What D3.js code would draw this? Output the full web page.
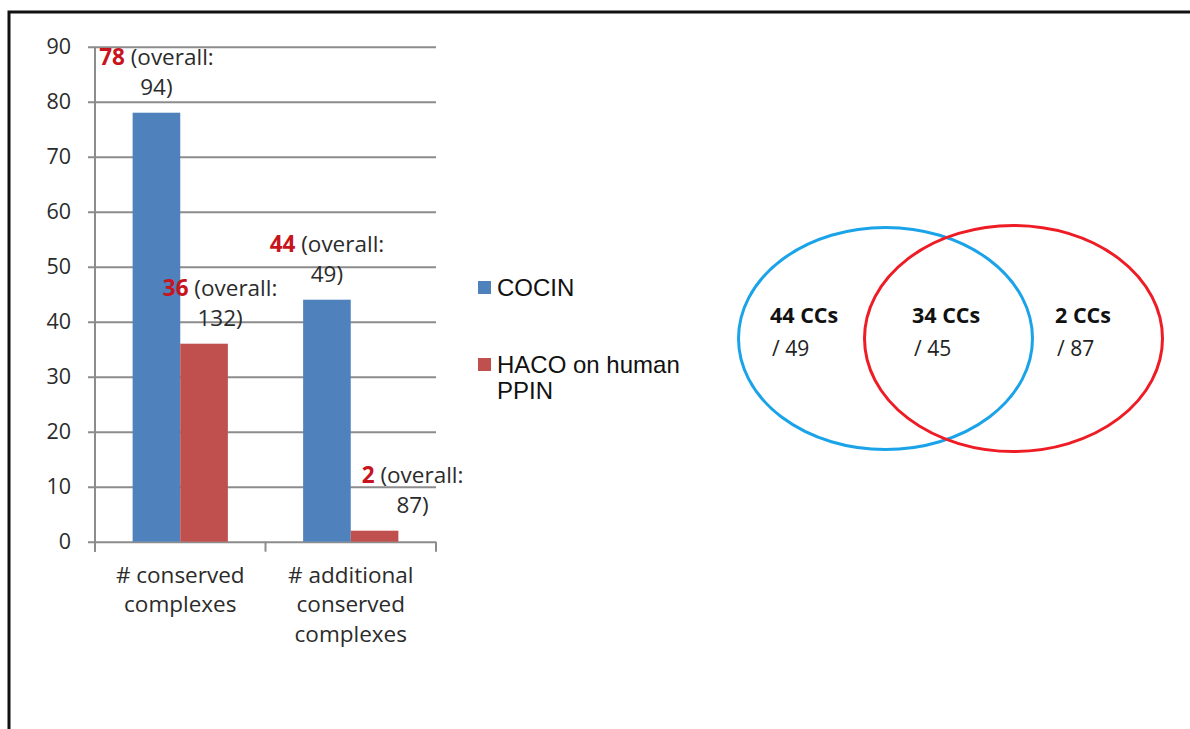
<!DOCTYPE html>
<html><head><meta charset="utf-8">
<script src="https://cdn.jsdelivr.net/npm/d3@7"></script>
<style>body{margin:0;background:#fff}svg{display:block}</style>
</head><body>
<svg id="c" width="1190" height="729"></svg>
<script>
// ---- data ----
const categories = [["# conserved","complexes"],["# additional","conserved","complexes"]];
const categoryKeys = ["conserved","additional"];
const series = ["COCIN","HACO on human PPIN"];
const cocinValues = [78, 44];
const hacoValues = [36, 2];
const overallCocin = [94, 49];
const overallHaco = [132, 87];
const yTicks = [0,10,20,30,40,50,60,70,80,90];
const vennLabels = ["44 CCs","34 CCs","2 CCs"];
const vennTotals = ["/ 49","/ 45","/ 87"];

// ---- layout ----
const svg = d3.select("#c");
const font = "'Open Sans', sans-serif";
const txt = "#2b2b2b";
const colors = {"COCIN":"#4F81BD","HACO on human PPIN":"#C0504D"};
const labelDx = {"COCIN":[0,0],"HACO on human PPIN":[16,38]};

svg.append("rect").attr("width",1190).attr("height",729).attr("fill","#fff");
// frame
svg.append("path").attr("d","M9,729V12H1190").attr("fill","none").attr("stroke","#111").attr("stroke-width",3);

const y = d3.scaleLinear().domain([0,90]).range([541.7,46.7]);
const x0 = d3.scaleBand().domain(categoryKeys).range([95,436]).padding(0);
const x1 = d3.scaleBand().domain(series).range([0,x0.bandwidth()]).paddingInner(0).paddingOuter(0.79);

// y axis with gridlines
const yAxis = svg.append("g").attr("transform","translate(95,0)")
  .call(d3.axisLeft(y).tickValues(yTicks).tickSizeInner(-(436-95)).tickSizeOuter(0).tickPadding(24));
yAxis.select(".domain").remove();
yAxis.selectAll(".tick line").attr("x1",-7).attr("stroke","#8c8c8c").attr("stroke-width",2);
yAxis.selectAll(".tick text").attr("font-family",font).attr("font-size",21.5).attr("fill",txt);
svg.append("line").attr("x1",95).attr("x2",95).attr("y1",y(90)).attr("y2",y(0)+10)
  .attr("stroke","#8c8c8c").attr("stroke-width",2);

// x axis: labels and boundary ticks
const xAxis = svg.append("g").attr("transform",`translate(0,${y(0)})`)
  .call(d3.axisBottom(x0).tickSize(0).tickPadding(0));
xAxis.select(".domain").remove();
xAxis.selectAll(".tick text").each(function(d,i){
  const t = d3.select(this).text(null).attr("font-family",font).attr("font-size",22.5).attr("fill",txt).attr("y",0).attr("dy",null);
  categories[i].forEach((line,j)=>{
    t.append("tspan").attr("x",0).attr("y",41+j*29.5).text(line);
  });
});
const bounds = [x0.range()[0], ...categoryKeys.map(k=>x0(k)+x0.bandwidth())];
svg.selectAll(".xb").data(bounds).join("line")
  .attr("x1",d=>d).attr("x2",d=>d).attr("y1",y(0)).attr("y2",y(0)+10)
  .attr("stroke","#8c8c8c").attr("stroke-width",2);

// bars
const rows = categoryKeys.map((k,i)=>({key:k,i,vals:[
  {s:series[0],v:cocinValues[i],o:overallCocin[i]},
  {s:series[1],v:hacoValues[i],o:overallHaco[i]}]}));
const grp = svg.selectAll(".grp").data(rows).join("g").attr("transform",d=>`translate(${x0(d.key)},0)`);
grp.selectAll("rect").data(d=>d.vals).join("rect")
  .attr("x",d=>x1(d.s)).attr("width",x1.bandwidth())
  .attr("y",d=>y(d.v)).attr("height",d=>y(0)-y(d.v)).attr("fill",d=>colors[d.s]);

// data labels
rows.forEach(r=>{
  r.vals.forEach(d=>{
    const cx = x0(r.key)+x1(d.s)+x1.bandwidth()/2 + labelDx[d.s][r.i];
    const top = y(d.v);
    const t1 = svg.append("text").attr("x",cx).attr("y",top-48).attr("text-anchor","middle")
      .attr("font-family",font).attr("font-size",22.5).attr("fill",txt);
    t1.append("tspan").attr("font-weight","bold").attr("fill","#C8141C").text(d.v);
    t1.append("tspan").text(" (overall:");
    svg.append("text").attr("x",cx).attr("y",top-18).attr("text-anchor","middle")
      .attr("font-family",font).attr("font-size",22.5).attr("fill",txt).text(d.o+")");
  });
});

// legend
const leg = svg.append("g");
series.forEach((s,i)=>{
  const ly = [288,365][i];
  leg.append("rect").attr("x",478).attr("y",ly-7).attr("width",13).attr("height",13).attr("fill",colors[s]);
});
leg.append("text").attr("x",497).attr("y",296).attr("font-family","'Liberation Sans', Arial, sans-serif")
  .attr("font-size",24).attr("fill","#111").text(series[0]);
const l2 = leg.append("text").attr("font-family","'Liberation Sans', Arial, sans-serif").attr("font-size",24).attr("fill","#111");
l2.append("tspan").attr("x",497).attr("y",373).text("HACO on human");
l2.append("tspan").attr("x",497).attr("y",399).text("PPIN");

// venn
svg.append("ellipse").attr("cx",885.5).attr("cy",338.5).attr("rx",147).attr("ry",111)
  .attr("fill","none").attr("stroke","#1AA3E8").attr("stroke-width",3);
svg.append("ellipse").attr("cx",1013.5).attr("cy",338.5).attr("rx",149).attr("ry",113)
  .attr("fill","none").attr("stroke","#EE1C25").attr("stroke-width",3);
const vx = [770,912,1055];
vennLabels.forEach((l,i)=>{
  svg.append("text").attr("x",vx[i]).attr("y",323).attr("font-family",font).attr("font-weight","bold")
    .attr("font-size",21.5).attr("fill","#111").text(l);
  svg.append("text").attr("x",vx[i]+2).attr("y",356).attr("font-family",font)
    .attr("font-size",21).attr("fill","#222").text(vennTotals[i]);
});
</script>
</body></html>
